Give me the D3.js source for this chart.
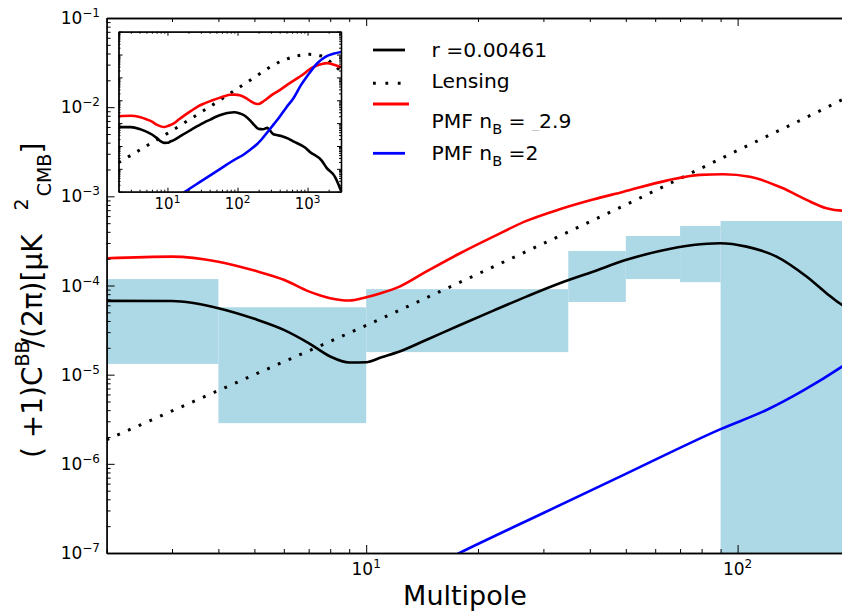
<!DOCTYPE html>
<html><head><meta charset="utf-8">
<script src="https://cdn.jsdelivr.net/npm/d3@7/dist/d3.min.js"></script>
<style>body{margin:0;background:#fff}svg{display:block}text{font-family:"DejaVu Sans",sans-serif;fill:#000}</style>
</head><body><svg id="c" width="842" height="612"></svg>
<script>
// ---------------- data ----------------
const tensorL = [2,3,4,5,6,7,8,9,10,11,12.3,14.5,17.9,22,27,33.2,40.8,50.2,61.7,75.9,89.6,105.7,127.3,153.3,173.5,191,200,230,265,320,360,430,530,625,920,1080,1590,1870,2460,3000];
const tensorCl = [6.72e-5,6.69e-5,5.57e-5,4.23e-5,3.18e-5,2.26e-5,1.60e-5,1.37e-5,1.38e-5,1.57e-5,1.82e-5,2.45e-5,3.61e-5,5.23e-5,7.51e-5,1.06e-4,1.43e-4,1.94e-4,2.44e-4,2.85e-4,2.98e-4,2.73e-4,2.11e-4,1.26e-4,8.2e-5,6.07e-5,5.6e-5,5.4e-5,6.2e-5,3.4e-5,3.0e-5,2.7e-5,2.1e-5,1.6e-5,8.5e-6,5.5e-6,2.3e-6,1.1e-6,4.5e-7,1.1e-7];

const lensL = [2,5,10,20,50,100,191,221,313,450,699,1048,1538,2253,3000];
const lensCl = [1.86e-6,1.0e-5,3.57e-5,1.35e-4,8.05e-4,3.27e-3,1.21e-2,1.65e-2,3.25e-2,5.6e-2,8.6e-2,0.102,8.9e-2,4.1e-2,1.8e-2];

const pmfRedL = [2,3,4,5,6,7,8,9,10,11,12.3,14.5,17.9,22,27,33.2,40.8,49.1,64.4,79.1,91.4,107.9,132.6,153.3,173.5,191,200,240,300,400,550,800,1200,1600,1900,2400,3000];
const pmfRedCl = [2.02e-4,2.11e-4,1.85e-4,1.47e-4,1.16e-4,8.59e-5,7.21e-5,6.78e-5,7.39e-5,8.26e-5,9.72e-5,1.43e-4,2.30e-4,3.53e-4,5.30e-4,7.16e-4,9.2e-4,1.12e-3,1.50e-3,1.74e-3,1.77e-3,1.66e-3,1.23e-3,9.12e-4,7.36e-4,6.92e-4,6.9e-4,9.5e-4,1.6e-3,2.8e-3,5.5e-3,1.15e-2,2.8e-2,3.9e-2,4.2e-2,3.6e-2,2.8e-2];

const pmfBlueL = [15,18,30,50,90,120,150,191,200,260,330,400,500,625,800,1000,1400,1800,2400,3000];
const pmfBlueCl = [7.0e-8,1.02e-7,2.81e-7,7.71e-7,2.45e-6,4.04e-6,6.62e-6,1.23e-5,1.4e-5,3.6e-5,9e-5,1.9e-4,5e-4,1.2e-3,4.5e-3,1.2e-2,4.4e-2,8e-2,0.11,0.13];

const binLo  = [2, 4, 10, 35, 50, 70, 90];
const binHi  = [4, 10, 35, 50, 70, 90, 400];
const binMin = [1.32e-5, 2.86e-6, 1.79e-5, 6.53e-5, 1.18e-4, 1.09e-4, 1e-9];
const binMax = [1.18e-4, 5.7e-5, 9.1e-5, 2.44e-4, 3.59e-4, 4.65e-4, 5.29e-4];

const legendLabels = ["r =0.00461", "Lensing", "PMF n", "PMF n"];
const mainXMajor = [10, 100];
const mainYMajor = [1e-7,1e-6,1e-5,1e-4,1e-3,1e-2,1e-1];
const insetXMajor = [10, 100, 1000];

// ---------------- helpers ----------------
function minorTicks(lo, hi){
  const out=[];
  for(let e=Math.floor(Math.log10(lo)); e<=Math.ceil(Math.log10(hi)); e++){
    for(let k=2;k<=9;k++){const v=k*Math.pow(10,e); if(v>=lo*0.999 && v<=hi*1.001) out.push(v);}
  }
  return out;
}
function expOf(v){return Math.round(Math.log10(v));}

const svg = d3.select("#c");
const defs = svg.append("defs");

// ---------------- main axes ----------------
const M = {l:106.6, r:849.4, t:18, b:553};
const x = d3.scaleLog().domain([2,200]).range([M.l,M.r]);
const y = d3.scaleLog().domain([1e-7,1e-1]).range([M.b,M.t]);

defs.append("clipPath").attr("id","clipMain").append("rect")
  .attr("x",M.l).attr("y",M.t).attr("width",M.r-M.l).attr("height",M.b-M.t);

const gMain = svg.append("g").attr("clip-path","url(#clipMain)");
const bins = binLo.map((d,i)=>({lo:d,hi:binHi[i],mn:binMin[i],mx:binMax[i]}));
gMain.selectAll("rect.bin").data(bins).join("rect").attr("class","bin")
  .attr("x",d=>x(d.lo)).attr("width",d=>x(d.hi)-x(d.lo))
  .attr("y",d=>y(d.mx)).attr("height",d=>y(d.mn)-y(d.mx))
  .attr("fill","#add8e6");

function series(L,C){return L.map((l,i)=>[l,C[i]]);}
const S = [
  {d:series(tensorL,tensorCl), color:"#000", dash:null},
  {d:series(lensL,lensCl), color:"#000", dash:"2.8,8.9"},
  {d:series(pmfRedL,pmfRedCl), color:"#ff0000", dash:null},
  {d:series(pmfBlueL,pmfBlueCl), color:"#0000ff", dash:null}
];
const lineMain = d3.line().x(d=>x(d[0])).y(d=>y(d[1])).curve(d3.curveMonotoneX);
S.forEach(s=>{
  gMain.append("path").datum(s.d).attr("d",lineMain).attr("fill","none")
    .attr("stroke",s.color).attr("stroke-width",s.dash?3:2.6)
    .attr("stroke-dasharray",s.dash).attr("stroke-linejoin","round");
});

function styleAxis(g){g.selectAll("path.domain").attr("stroke","#000").attr("stroke-width",1.3);
  g.selectAll(".tick line").attr("stroke","#000").attr("stroke-width",1);}

let g;
g = svg.append("g").attr("transform",`translate(0,${M.b})`)
  .call(d3.axisBottom(x).tickValues(minorTicks(2,200)).tickSize(-4).tickSizeOuter(0).tickFormat(""));
styleAxis(g);
g = svg.append("g").attr("transform",`translate(0,${M.b})`)
  .call(d3.axisBottom(x).tickValues(mainXMajor).tickSize(-8).tickSizeOuter(0).tickFormat(""));
styleAxis(g);
g = svg.append("g").attr("transform",`translate(0,${M.t})`)
  .call(d3.axisTop(x).tickValues(minorTicks(2,200)).tickSize(-4).tickSizeOuter(0).tickFormat(""));
styleAxis(g);
g = svg.append("g").attr("transform",`translate(0,${M.t})`)
  .call(d3.axisTop(x).tickValues(mainXMajor).tickSize(-8).tickSizeOuter(0).tickFormat(""));
styleAxis(g);
g = svg.append("g").attr("transform",`translate(${M.l},0)`)
  .call(d3.axisLeft(y).tickValues(minorTicks(1e-7,1e-1)).tickSize(-4).tickSizeOuter(0).tickFormat(""));
styleAxis(g);
g = svg.append("g").attr("transform",`translate(${M.l},0)`)
  .call(d3.axisLeft(y).tickValues(mainYMajor).tickSize(-8).tickSizeOuter(0).tickFormat(""));
styleAxis(g);

mainXMajor.forEach(v=>{
  const t = svg.append("text").attr("x",x(v)).attr("y",575).attr("text-anchor","middle").attr("font-size",17);
  t.append("tspan").text("10");
  t.append("tspan").attr("dy",-7).attr("font-size",12).text(expOf(v));
});
mainYMajor.forEach(v=>{
  const t = svg.append("text").attr("x",100).attr("y",y(v)+6).attr("text-anchor","end").attr("font-size",17);
  t.append("tspan").text("10");
  t.append("tspan").attr("dy",-7).attr("font-size",12).text("\u2212"+(-expOf(v)));
});

svg.append("text").attr("x",465).attr("y",605).attr("text-anchor","middle").attr("font-size",27).text("Multipole");
const yl = svg.append("text").attr("transform","translate(42,458) rotate(-90)").attr("font-size",28);
yl.append("tspan").text("( +1)C");
yl.append("tspan").attr("font-size",19).attr("dy",-13).text("BB");
yl.append("tspan").attr("dx",-16).attr("dy",13).text(" /(2\u03c0)[\u03bcK");
yl.append("tspan").attr("font-size",19).attr("dx",24).attr("dy",-14).text("2");
yl.append("tspan").attr("font-size",19).attr("dx",2).attr("dy",23).text("CMB");
yl.append("tspan").attr("dy",-9).text("]");

// ---------------- legend ----------------
const lg = svg.append("g");
const legY = [50, 83.3, 104, 153.3];
const legX2 = [405, 405, 409, 405];
[0,2,3].forEach(i=>{
  lg.append("line").attr("x1",373).attr("x2",legX2[i]).attr("y1",legY[i]).attr("y2",legY[i])
    .attr("stroke",S[i].color).attr("stroke-width",2.8);
});
lg.append("line").attr("x1",373).attr("x2",405).attr("y1",legY[1]).attr("y2",legY[1])
  .attr("stroke","#000").attr("stroke-width",3).attr("stroke-dasharray","2.8,9.6");
const txtY = [57.3, 88.3, 128, 160];
let tt;
const FS = 20.3;
svg.append("text").attr("x",431.5).attr("y",txtY[0]).attr("font-size",FS).text(legendLabels[0]);
svg.append("text").attr("x",431.5).attr("y",txtY[1]).attr("font-size",FS).text(legendLabels[1]);
tt = svg.append("text").attr("x",431.5).attr("y",txtY[2]).attr("font-size",FS);
tt.append("tspan").text(legendLabels[2]);
tt.append("tspan").attr("font-size",14.5).attr("dy",6).text("B");
tt.append("tspan").attr("dy",-6).text(" = ");
tt.append("tspan").attr("font-size",14).attr("fill","#c8c8c8").text("_");
tt.append("tspan").text("2.9");
tt = svg.append("text").attr("x",431.5).attr("y",txtY[3]).attr("font-size",FS);
tt.append("tspan").text(legendLabels[3]);
tt.append("tspan").attr("font-size",14.5).attr("dy",6).text("B");
tt.append("tspan").attr("dy",-6).text(" =2");

// ---------------- inset ----------------
const I = {l:118.5, r:341, t:31.7, b:191.7};
const xi = d3.scaleLog().domain([2,3000]).range([I.l,I.r]);
const yi = d3.scaleLog().domain([1e-7,1]).range([I.b,I.t]);
svg.append("rect").attr("x",I.l).attr("y",I.t).attr("width",I.r-I.l).attr("height",I.b-I.t).attr("fill","#fff");
defs.append("clipPath").attr("id","clipInset").append("rect")
  .attr("x",I.l).attr("y",I.t).attr("width",I.r-I.l).attr("height",I.b-I.t);
const gIn = svg.append("g").attr("clip-path","url(#clipInset)");
const lineIn = d3.line().x(d=>xi(d[0])).y(d=>yi(d[1])).curve(d3.curveMonotoneX);
S.forEach(s=>{
  gIn.append("path").datum(s.d).attr("d",lineIn).attr("fill","none")
    .attr("stroke",s.color).attr("stroke-width",s.dash?3:2.6)
    .attr("stroke-dasharray",s.dash?"2.8,8.2":null).attr("stroke-linejoin","round");
});
function insetAxis(axisFn, scale, tr, vals, size){
  const gg = svg.append("g").attr("transform",tr)
    .call(axisFn(scale).tickValues(vals).tickSize(-size).tickSizeOuter(0).tickFormat(""));
  styleAxis(gg);
}
const ixMin = minorTicks(2,3000), iyMin = minorTicks(1e-7,1), iyMaj=[1e-7,1e-6,1e-5,1e-4,1e-3,1e-2,1e-1,1];
insetAxis(d3.axisBottom, xi, `translate(0,${I.b})`, ixMin, 2);
insetAxis(d3.axisBottom, xi, `translate(0,${I.b})`, insetXMajor, 4);
insetAxis(d3.axisTop, xi, `translate(0,${I.t})`, ixMin, 2);
insetAxis(d3.axisTop, xi, `translate(0,${I.t})`, insetXMajor, 4);
insetAxis(d3.axisLeft, yi, `translate(${I.l},0)`, iyMin, 2);
insetAxis(d3.axisLeft, yi, `translate(${I.l},0)`, iyMaj, 4);
insetAxis(d3.axisRight, yi, `translate(${I.r},0)`, iyMin, 2);
insetAxis(d3.axisRight, yi, `translate(${I.r},0)`, iyMaj, 4);
insetXMajor.forEach(v=>{
  const t = svg.append("text").attr("x",xi(v)).attr("y",209).attr("text-anchor","middle").attr("font-size",15);
  t.append("tspan").text("10");
  t.append("tspan").attr("dy",-6).attr("font-size",10.5).text(expOf(v));
});
</script></body></html>
